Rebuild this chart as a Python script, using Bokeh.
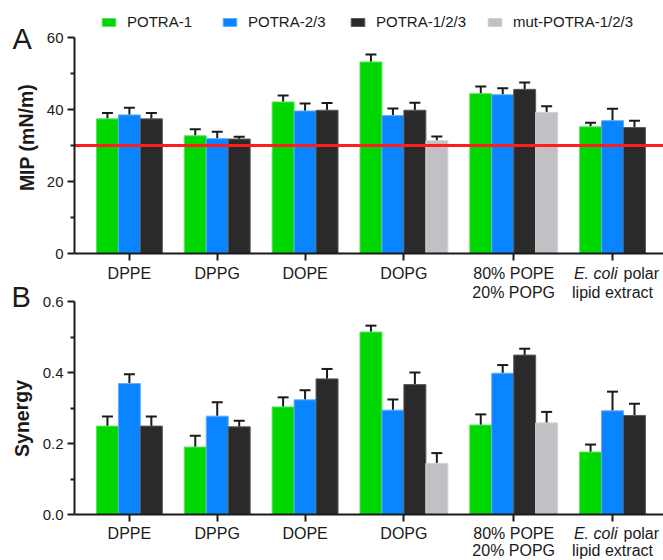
from bokeh.plotting import figure
from bokeh.models import (FixedTicker, Whisker, TeeHead, ColumnDataSource, Range1d,
                          Label, Legend, LegendItem, PrintfTickFormatter, LinearAxis, Grid)
from bokeh.embed import file_html
from bokeh.resources import INLINE

# ---------------- data ----------------
cat_line1 = ["DPPE", "DPPG", "DOPE", "DOPG", "80% POPE", "E. coli polar"]
cat_line2 = ["", "", "", "", "20% POPG", "lipid extract"]

series_names = ["POTRA-1", "POTRA-2/3", "POTRA-1/2/3", "mut-POTRA-1/2/3"]

# Panel A: MIP (mN/m), mean and SD
mip_potra1 = [37.4, 32.7, 42.1, 53.2, 44.4, 35.2]
mip_potra1_err = [1.6, 1.8, 1.8, 2.1, 2.0, 1.1]
mip_potra23 = [38.5, 31.9, 39.6, 38.3, 44.1, 36.9]
mip_potra23_err = [2.0, 1.9, 2.1, 2.0, 1.8, 3.3]
mip_potra123 = [37.4, 31.8, 39.8, 39.8, 45.6, 35.0]
mip_potra123_err = [1.6, 0.6, 2.0, 2.1, 1.9, 1.9]
mip_mut = [None, None, None, 31.3, 39.2, None]
mip_mut_err = [None, None, None, 1.2, 1.7, None]
mip_reference = 30

# Panel B: synergy, mean and SD
syn_potra1 = [0.249, 0.190, 0.303, 0.514, 0.252, 0.176]
syn_potra1_err = [0.027, 0.032, 0.027, 0.018, 0.030, 0.021]
syn_potra23 = [0.369, 0.277, 0.323, 0.294, 0.398, 0.292]
syn_potra23_err = [0.026, 0.039, 0.027, 0.030, 0.023, 0.054]
syn_potra123 = [0.249, 0.247, 0.382, 0.366, 0.449, 0.279]
syn_potra123_err = [0.027, 0.017, 0.028, 0.034, 0.018, 0.033]
syn_mut = [None, None, None, 0.144, 0.258, None]
syn_mut_err = [None, None, None, 0.029, 0.031, None]

mip_ticks = [0, 20, 40, 60]
mip_minor = [10, 30, 50]
syn_ticks = [0.0, 0.2, 0.4, 0.6]
syn_minor = [0.1, 0.3, 0.5]

# ---------------- layout / style ----------------
W, H = 663, 560
FONT = "Liberation Sans"
AX = "#1a1a1a"
colors = ["#00d600", "#0a84ff", "#2a2a2a", "#c2bfc5"]
edges = ["#5ee25e", "#5eaefc", "#5a5a5a", "#d2d0d4"]

AXIS_X_PX = 74          # pixel column of the y axes
UNIT_PX = 21.96         # pixel width of one bar
A_ZERO_PX, A_TOP_PX = 253, 37
B_ZERO_PX, B_TOP_PX = 514, 301

x_start = -AXIS_X_PX / UNIT_PX
x_end = (W - AXIS_X_PX) / UNIT_PX


def yrange(zero_px, top_px, top_val):
    ppu = (zero_px - top_px) / top_val
    return Range1d(-(H - zero_px) / ppu, zero_px / ppu), ppu


rangeA, ppuA = yrange(A_ZERO_PX, A_TOP_PX, mip_ticks[-1])
rangeB, ppuB = yrange(B_ZERO_PX, B_TOP_PX, syn_ticks[-1])


def xpx(px):
    return (px - AXIS_X_PX) / UNIT_PX


def ypxA(py):
    return (A_ZERO_PX - py) / ppuA


def ypxB(py):
    return (B_ZERO_PX - py) / ppuB


# group layout (bars of width 1, one empty slot between groups)
n_groups = len(cat_line1)
mip_all = [mip_potra1, mip_potra23, mip_potra123, mip_mut]
mip_err_all = [mip_potra1_err, mip_potra23_err, mip_potra123_err, mip_mut_err]
syn_all = [syn_potra1, syn_potra23, syn_potra123, syn_mut]
syn_err_all = [syn_potra1_err, syn_potra23_err, syn_potra123_err, syn_mut_err]

positions = [[None] * n_groups for _ in range(4)]
centers = []
start = 1.0
for g in range(n_groups):
    present = [s for s in range(4) if mip_all[s][g] is not None]
    for k, s in enumerate(present):
        positions[s][g] = start + k + 0.5
    centers.append(start + len(present) / 2)
    start += len(present) + 1

p = figure(width=W, height=H, x_range=Range1d(x_start, x_end), y_range=rangeA,
           x_axis_location=None, y_axis_location=None,
           output_backend="svg", toolbar_location=None,
           min_border=0, min_border_left=0, min_border_right=0,
           min_border_top=0, min_border_bottom=0)
p.extra_y_ranges = {"B": rangeB}
p.outline_line_color = None
p.center = [c for c in p.center if not isinstance(c, Grid)]
p.background_fill_color = "white"
p.border_fill_color = "white"


def text(x, y, s, size="16px", style="normal", align="center", baseline="middle",
         angle=0.0, x_offset=0, rng="default"):
    p.add_layout(Label(x=x, y=y, text=s, x_offset=x_offset, angle=angle,
                       text_font=FONT, text_font_size=size, text_font_style=style,
                       text_align=align, text_baseline=baseline, text_color=AX,
                       y_range_name=rng))


def panel(vals, errs, rng, ticks, minor, fmt, line_px):
    renderers = []
    for s in range(4):
        xs, tops, ups = [], [], []
        for g in range(n_groups):
            if vals[s][g] is None:
                continue
            xs.append(positions[s][g])
            tops.append(vals[s][g])
            ups.append(vals[s][g] + errs[s][g])
        src = ColumnDataSource(dict(x=xs, top=tops, up=ups))
        r = p.vbar(x="x", top="top", bottom=0, width=1, source=src, y_range_name=rng,
                   fill_color=colors[s], line_color=edges[s], line_width=1)
        renderers.append(r)
        p.add_layout(Whisker(source=src, base="x", lower="top", upper="up", dimension="height",
                             y_range_name=rng, line_color=AX, line_width=2, lower_head=None,
                             upper_head=TeeHead(size=11, line_width=2, line_color=AX)))

    yax = LinearAxis(y_range_name=rng, fixed_location=0, bounds=(0, ticks[-1]),
                     ticker=FixedTicker(ticks=ticks, minor_ticks=minor),
                     formatter=PrintfTickFormatter(format=fmt))
    xax = LinearAxis(y_range_name=rng, fixed_location=0, bounds=(0, x_end),
                     ticker=FixedTicker(ticks=centers, minor_ticks=[]))
    for ax in (yax, xax):
        ax.axis_line_width = 2
        ax.axis_line_color = AX
        ax.major_tick_line_width = 2
        ax.major_tick_line_color = AX
        ax.minor_tick_line_width = 2
        ax.minor_tick_line_color = AX
        ax.major_tick_in = 0
        ax.major_tick_out = 7
        ax.minor_tick_in = 0
        ax.minor_tick_out = 4
    yax.major_label_text_font = FONT
    yax.major_label_text_font_size = "15px"
    yax.major_label_text_color = AX
    yax.major_label_standoff = 4
    xax.major_label_text_color = None
    xax.minor_tick_out = 0
    p.add_layout(yax, "left")
    p.add_layout(xax, "below")

    # category labels (two lines, "E. coli" in italics)
    ppu = ppuA if rng == "default" else ppuB
    y1 = -line_px[0] / ppu
    y2 = -line_px[1] / ppu
    for g in range(n_groups):
        if cat_line1[g].startswith("E. coli"):
            text(centers[g], y1, "E. coli", style="italic", align="right", x_offset=5, rng=rng)
            text(centers[g], y1, cat_line1[g][len("E. coli "):], align="left", x_offset=11, rng=rng)
        else:
            text(centers[g], y1, cat_line1[g], rng=rng)
        if cat_line2[g]:
            text(centers[g], y2, cat_line2[g], rng=rng)
    return renderers


# ---------------- panel A ----------------
rA = panel(mip_all, mip_err_all, "default", mip_ticks, mip_minor, "%d", (20, 39))
p.segment(x0=[0], x1=[x_end], y0=[mip_reference], y1=[mip_reference],
          line_color="#ff1c1c", line_width=3)

legend_x = [100, 221, 349, 486]
for i, r in enumerate(rA):
    leg = Legend(items=[LegendItem(label=series_names[i], renderers=[r])],
                 location=(legend_x[i], H - 30), orientation="horizontal",
                 padding=0, margin=0, spacing=0, glyph_width=17, glyph_height=10,
                 label_standoff=10, label_height=17,
                 label_text_font=FONT, label_text_font_size="15px", label_text_color=AX,
                 border_line_color=None, background_fill_alpha=0)
    p.add_layout(leg, "center")

text(xpx(26), ypxA(137), "MIP (mN/m)", size="19.5px", style="bold", angle=1.5708)
text(xpx(12), ypxA(38), "A", size="29px", align="left", baseline="alphabetic")

# ---------------- panel B ----------------
panel(syn_all, syn_err_all, "B", syn_ticks, syn_minor, "%.1f", (19, 36))
text(xpx(11), ypxA(296), "B", size="29px", align="left", baseline="alphabetic")
text(xpx(21), ypxB(418), "Synergy", size="19.5px", style="bold", angle=1.5708, rng="B")

open("out.html", "w").write(file_html(p, INLINE))
